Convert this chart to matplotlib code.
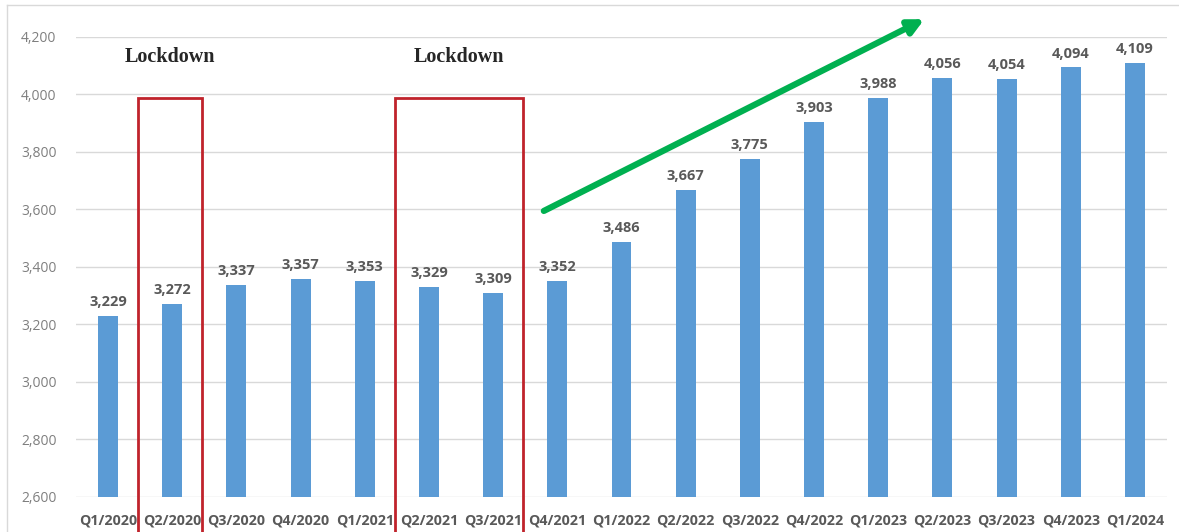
import matplotlib.pyplot as plt
from matplotlib.patches import Rectangle
from matplotlib.lines import Line2D

quarters = ["Q1/2020", "Q2/2020", "Q3/2020", "Q4/2020", "Q1/2021", "Q2/2021",
            "Q3/2021", "Q4/2021", "Q1/2022", "Q2/2022", "Q3/2022", "Q4/2022",
            "Q1/2023", "Q2/2023", "Q3/2023", "Q4/2023", "Q1/2024"]
values = [3229, 3272, 3337, 3357, 3353, 3329, 3309, 3352, 3486, 3667, 3775,
          3903, 3988, 4056, 4054, 4094, 4109]
yticks = [2600, 2800, 3000, 3200, 3400, 3600, 3800, 4000, 4200]

# lockdown periods: (first index, last index)
lockdowns = [(1, 1), (5, 6)]

grey = "#595959"
plt.rcParams['font.family'] = ['Open Sans', 'DejaVu Sans']

fig = plt.figure(figsize=(11.79, 5.32), dpi=100)
ax = fig.add_axes([76 / 1179, 35 / 532, 1091 / 1179, 460 / 532])

x = list(range(len(quarters)))
bars = ax.bar(x, values, width=0.31, color="#5B9BD5", zorder=2)
ax.bar_label(bars, labels=[f"{v:,}" for v in values], padding=5,
             fontsize=10.5, fontweight='bold', color=grey)

ax.set_xlim(-0.5, len(quarters) - 0.5)
ax.set_ylim(2600, 4200)
ax.set_yticks(yticks)
ax.set_yticklabels([f"{v:,}" for v in yticks])
ax.set_xticks(x)
ax.set_xticklabels(quarters, fontweight='bold')
ax.tick_params(axis='x', length=0, pad=12, labelsize=10.3, labelcolor=grey)
ax.tick_params(axis='y', length=0, pad=14, labelsize=10, labelcolor="#7F7F7F")
ax.grid(axis='y', color="#D9D9D9", linewidth=1, zorder=0)
for s in ax.spines.values():
    s.set_visible(False)

# red boxes and labels for lockdowns
for a, b in lockdowns:
    left = a - 0.53
    right = b + 0.47
    ax.add_patch(Rectangle((left, 2460), right - left, 3988 - 2460,
                           fill=False, edgecolor="#C0232B", linewidth=2,
                           clip_on=False, zorder=3))
    ax.text((left + right) / 2, 4130, "Lockdown", ha='center', va='center',
            fontsize=14.5, fontweight='bold', color="#262626",
            family=['Liberation Serif'])

# green trend arrow
ax.annotate("", xy=(12.72, 4262), xytext=(6.79, 3595),
            arrowprops=dict(arrowstyle="-|>,head_length=0.9,head_width=0.45",
                            color="#00B050", linewidth=4.5, shrinkA=0, shrinkB=0),
            annotation_clip=False, zorder=4)

# faint chart border
fig.add_artist(Line2D([7 / 1179, 1], [1 - 5 / 532, 1 - 5 / 532],
                      color="#D9D9D9", linewidth=1, transform=fig.transFigure))
fig.add_artist(Line2D([7 / 1179, 7 / 1179], [0, 1 - 5 / 532],
                      color="#D9D9D9", linewidth=1, transform=fig.transFigure))

plt.savefig("out.png", dpi=100)
